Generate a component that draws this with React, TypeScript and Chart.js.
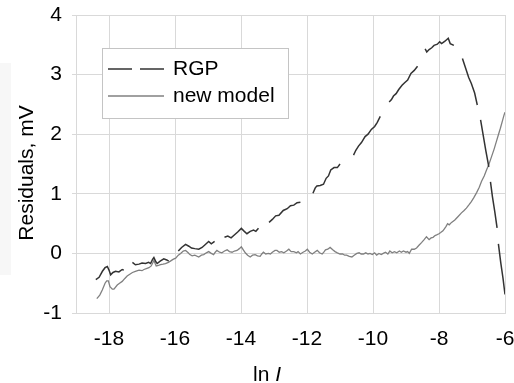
import { useEffect, useRef } from "react";
import { Chart, registerables } from "chart.js";

Chart.register(...registerables);

const FONT = "'Liberation Sans', Arial, sans-serif";

const X_TICKS = [-18, -16, -14, -12, -10, -8, -6];
const Y_TICKS = [-1, 0, 1, 2, 3, 4];
const SERIES_NAMES = ["RGP", "new model"];

// RGP residuals; null entries mark the breaks in the long-dash trace
const RGP_X = [
  -18.4, -18.3, -18.2, -18.12, -18.05, -18.0, -17.95, -17.88, -17.8, -17.7, -17.6, -17.55,
  -17.42,
  -17.29, -17.2, -17.09, -17.0, -16.89, -16.8, -16.74, -16.68, -16.64, -16.58, -16.54, -16.45, -16.34, -16.25, -16.19,
  -16.05,
  -15.9, -15.8, -15.68, -15.58, -15.5, -15.4, -15.28, -15.18, -15.08, -14.98, -14.9, -14.8,
  -14.65,
  -14.5, -14.4, -14.3, -14.22, -14.1, -13.99, -13.9, -13.82, -13.72, -13.62, -13.55, -13.47,
  -13.3,
  -13.15, -13.05, -12.95, -12.85, -12.72, -12.6, -12.5, -12.4, -12.3, -12.2,
  -12.0,
  -11.82, -11.75, -11.7, -11.6, -11.5, -11.42, -11.35, -11.28, -11.18, -11.08, -11.0,
  -10.8,
  -10.59, -10.52, -10.44, -10.35, -10.24, -10.15, -10.05, -9.95, -9.87, -9.78,
  -9.65,
  -9.51, -9.44, -9.38, -9.3, -9.22, -9.12, -9.05, -8.95, -8.85, -8.75, -8.65,
  -8.52,
  -8.42, -8.37, -8.3, -8.22, -8.15, -8.05, -7.98, -7.92, -7.82, -7.72, -7.66, -7.55,
  -7.4,
  -7.29, -7.2, -7.1, -7.02, -6.92, -6.84,
  -6.79,
  -6.74, -6.66, -6.58, -6.49,
  -6.465,
  -6.44, -6.38, -6.31, -6.24,
  -6.22,
  -6.2, -6.13, -6.06, -6.0,
];
const RGP_Y = [
  -0.44, -0.4, -0.3, -0.24, -0.22, -0.28, -0.36, -0.32, -0.3, -0.31, -0.27, -0.28,
  null,
  -0.15, -0.19, -0.18, -0.16, -0.17, -0.15, -0.17, -0.1, -0.07, -0.14, -0.17, -0.13, -0.09, -0.11, -0.13,
  null,
  0.04, 0.1, 0.15, 0.12, 0.09, 0.08, 0.07, 0.1, 0.15, 0.2, 0.16, 0.2,
  null,
  0.27, 0.29, 0.26, 0.3, 0.36, 0.42, 0.37, 0.33, 0.37, 0.39, 0.37, 0.42,
  null,
  0.52, 0.57, 0.63, 0.64, 0.72, 0.75, 0.8, 0.81, 0.85, 0.86,
  null,
  1.01, 1.1, 1.13, 1.14, 1.16, 1.26, 1.3, 1.4, 1.44, 1.44, 1.5,
  null,
  1.65, 1.73, 1.8, 1.86, 1.96, 2.0, 2.08, 2.13, 2.2, 2.3,
  null,
  2.54, 2.58, 2.64, 2.68, 2.75, 2.82, 2.86, 2.91, 3.02, 3.07, 3.14,
  null,
  3.43, 3.38, 3.42, 3.45, 3.49, 3.51, 3.55, 3.52, 3.56, 3.61, 3.52, 3.49,
  null,
  3.27, 3.12, 2.95, 2.85, 2.69, 2.49,
  null,
  2.24, 1.98, 1.72, 1.45,
  null,
  1.2, 0.95, 0.7, 0.43,
  null,
  0.16, -0.15, -0.42, -0.69,
];

// new model residuals
const NEW_X = [
  -18.37, -18.28, -18.2, -18.12, -18.07, -18.02, -17.97, -17.9, -17.85, -17.75, -17.68, -17.6,
  -17.52, -17.45, -17.37, -17.29, -17.2, -17.09, -17.0, -16.94, -16.85, -16.79, -16.72, -16.64,
  -16.57, -16.5, -16.44, -16.36, -16.29, -16.2, -16.14, -16.06, -15.98, -15.9, -15.83, -15.75,
  -15.68, -15.6, -15.55, -15.48, -15.4, -15.28, -15.2, -15.13, -15.05, -14.98, -14.9, -14.83,
  -14.78, -14.73, -14.65, -14.58, -14.5, -14.42, -14.35, -14.27, -14.2, -14.12, -14.05, -13.99,
  -13.93, -13.87, -13.8, -13.72, -13.65, -13.57, -13.5, -13.42, -13.37, -13.32, -13.25, -13.17,
  -13.11, -13.05, -12.97, -12.91, -12.84, -12.77, -12.7, -12.62, -12.55, -12.48, -12.4, -12.32,
  -12.27, -12.2, -12.12, -12.05, -11.99, -11.92, -11.84, -11.77, -11.69, -11.62, -11.54, -11.49,
  -11.44, -11.37, -11.3, -11.22, -11.15, -11.08, -11.0, -10.92, -10.86, -10.8, -10.72, -10.64,
  -10.57, -10.49, -10.42, -10.36, -10.29, -10.22, -10.15, -10.09, -10.02, -9.95, -9.89, -9.82,
  -9.75, -9.69, -9.62, -9.55, -9.49, -9.42, -9.35, -9.28, -9.2, -9.14, -9.08, -9.0,
  -8.95, -8.9, -8.83, -8.75, -8.68, -8.6, -8.53, -8.45, -8.38, -8.3, -8.24, -8.18,
  -8.12, -8.07, -8.0, -7.95, -7.88, -7.79, -7.74, -7.69, -7.62, -7.52, -7.42, -7.32,
  -7.24, -7.17, -7.1, -7.02, -6.94, -6.86, -6.78, -6.71, -6.63, -6.56, -6.49, -6.41,
  -6.33, -6.26, -6.2, -6.14, -6.08, -6.03, -6.0,
];
const NEW_Y = [
  -0.76, -0.7, -0.61, -0.5, -0.46, -0.46, -0.56, -0.6, -0.6, -0.53, -0.5, -0.47,
  -0.42, -0.38, -0.35, -0.32, -0.3, -0.28, -0.29, -0.27, -0.25, -0.24, -0.21, -0.12,
  -0.21, -0.2, -0.19, -0.18, -0.17, -0.15, -0.13, -0.1, -0.08, -0.03, 0.0, 0.04,
  0.05, 0.01, -0.02, -0.04, -0.03, -0.06, -0.03, -0.02, 0.01, 0.03, 0.0, -0.02,
  0.02, 0.05, 0.02, 0.01, 0.04, 0.06, 0.03, 0.02, 0.04, 0.05, 0.08, 0.11,
  0.06, 0.01, -0.03, -0.06, -0.03, -0.02, -0.04, -0.05, -0.01, 0.02, -0.01, 0.0,
  -0.01, 0.02, 0.05, 0.05, 0.02, 0.03, 0.01, 0.04, 0.07, 0.03, 0.03, 0.01,
  0.03, -0.01, 0.02, 0.04, 0.07, 0.02, -0.01, 0.02, 0.05, 0.01, -0.01, 0.02,
  0.06, 0.07, 0.1, 0.06, 0.03, 0.01, -0.01, -0.01, -0.03, -0.03, -0.05, -0.06,
  -0.03, 0.0, 0.01, -0.01, -0.01, 0.01, -0.01, 0.0, -0.02, 0.01, -0.03, 0.0,
  -0.02, 0.0, 0.02, -0.01, 0.04, 0.01, 0.03, 0.01, 0.04, 0.02, 0.04, 0.02,
  0.03, 0.0, 0.07, 0.07, 0.09, 0.14, 0.18, 0.23, 0.28, 0.23, 0.26, 0.27,
  0.3, 0.31, 0.33, 0.35, 0.38, 0.45, 0.5, 0.48, 0.52, 0.56, 0.62, 0.68,
  0.72, 0.76, 0.81, 0.87, 0.94, 1.02, 1.11, 1.21, 1.3, 1.4, 1.49, 1.62,
  1.75, 1.88, 1.99, 2.1, 2.22, 2.32, 2.37,
];

const GRID = "#d9d9d9";

// Legend box and axis titles drawn inside the plot
const overlayPlugin = {
  id: "overlay",
  beforeDraw(chart: any) {
    const { ctx } = chart;
    ctx.save();
    ctx.fillStyle = "#f7f7f7";
    ctx.fillRect(0, 63, 11, 212);
    ctx.restore();
  },
  afterDraw(chart: any) {
    const { ctx, chartArea: a } = chart;
    ctx.save();
    const bx = a.left + 26;
    const by = a.top + 33;
    const bw = 186;
    const bh = 70;
    ctx.fillStyle = "#ffffff";
    ctx.fillRect(bx, by, bw, bh);
    ctx.strokeStyle = "#c4c4c4";
    ctx.lineWidth = 1;
    ctx.strokeRect(bx + 0.5, by + 0.5, bw, bh);
    ctx.font = `21px ${FONT}`;
    ctx.textBaseline = "middle";
    ctx.textAlign = "left";
    chart.data.datasets.forEach((ds: any, i: number) => {
      const y = by + 21 + i * 27;
      ctx.beginPath();
      ctx.setLineDash(ds.legendDash || []);
      ctx.strokeStyle = ds.borderColor;
      ctx.lineWidth = ds.borderWidth;
      ctx.moveTo(bx + 6, y);
      ctx.lineTo(bx + 62, y);
      ctx.stroke();
      ctx.setLineDash([]);
      ctx.fillStyle = "#000";
      ctx.fillText(ds.label, bx + 71, y);
    });

    // y-axis title
    ctx.save();
    ctx.translate(27, 173);
    ctx.rotate(-Math.PI / 2);
    ctx.textAlign = "center";
    ctx.fillStyle = "#000";
    ctx.fillText("Residuals, mV", 0, 0);
    ctx.restore();

    // x-axis title: "ln I" with italic I
    ctx.textBaseline = "alphabetic";
    ctx.fillStyle = "#000";
    const plain = "ln ";
    ctx.font = `21px ${FONT}`;
    const w1 = ctx.measureText(plain).width;
    ctx.font = `italic 21px ${FONT}`;
    const w2 = ctx.measureText("I").width;
    const x0 = 267 - (w1 + w2) / 2;
    ctx.font = `21px ${FONT}`;
    ctx.fillText(plain, x0, 381);
    ctx.font = `italic 21px ${FONT}`;
    ctx.fillText("I", x0 + w1, 381);
    ctx.restore();
  },
};

export default function App() {
  const canvasRef = useRef<HTMLCanvasElement | null>(null);

  useEffect(() => {
    const canvas = canvasRef.current;
    if (!canvas) return;
    const rgpData = RGP_X.map((x, i) => ({ x, y: RGP_Y[i] }));
    const newData = NEW_X.map((x, i) => ({ x, y: NEW_Y[i] }));

    const chart = new Chart(canvas, {
      type: "line",
      data: {
        datasets: [
          {
            label: SERIES_NAMES[0],
            data: rgpData as any,
            borderColor: "#333333",
            borderWidth: 1.5,
            pointRadius: 0,
            spanGaps: false,
            tension: 0,
            legendDash: [24, 8],
          } as any,
          {
            label: SERIES_NAMES[1],
            data: newData as any,
            borderColor: "#808080",
            borderWidth: 1.3,
            pointRadius: 0,
            tension: 0,
          } as any,
        ],
      },
      options: {
        responsive: false,
        animation: false,
        events: [],
        layout: { padding: { top: 15, right: 9, left: 0, bottom: 0 } },
        plugins: {
          legend: { display: false },
          tooltip: { enabled: false },
          title: { display: false },
        },
        scales: {
          x: {
            type: "linear",
            min: -19,
            max: -6,
            afterBuildTicks: (s: any) => {
              s.ticks = X_TICKS.map((v) => ({ value: v }));
            },
            afterFit: (s: any) => {
              s.height = 70;
              s.paddingLeft = 0;
              s.paddingRight = 0;
            },
            grid: { color: GRID, lineWidth: 1, drawTicks: false },
            border: { color: GRID },
            ticks: {
              color: "#000",
              font: { size: 21, family: FONT },
              padding: 14,
              maxRotation: 0,
              autoSkip: false,
              callback: (v: any) => String(v),
            },
          },
          y: {
            type: "linear",
            min: -1,
            max: 4,
            afterBuildTicks: (s: any) => {
              s.ticks = Y_TICKS.map((v) => ({ value: v }));
            },
            afterFit: (s: any) => {
              s.width = 76;
              s.paddingTop = 0;
              s.paddingBottom = 0;
            },
            grid: { color: GRID, lineWidth: 1, tickLength: 4 },
            border: { color: GRID },
            ticks: {
              color: "#000",
              font: { size: 21, family: FONT },
              padding: 10,
              callback: (v: any) => String(v),
            },
          },
        },
      },
      plugins: [overlayPlugin],
    });

    return () => chart.destroy();
  }, []);

  return (
    <div style={{ position: "absolute", left: 0, top: 0, width: 514, height: 383, background: "#fff" }}>
      <canvas ref={canvasRef} width={514} height={383} style={{ display: "block" }} />
    </div>
  );
}
